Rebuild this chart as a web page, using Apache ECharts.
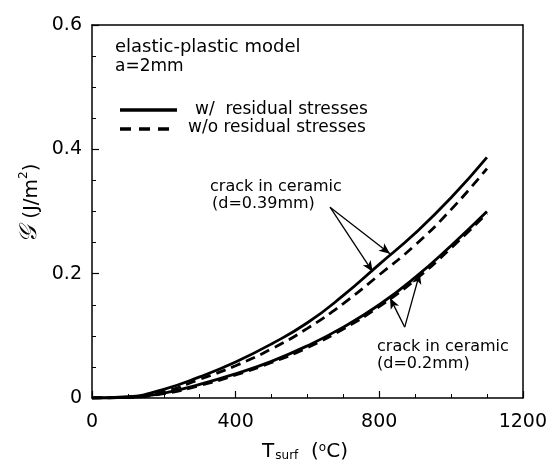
<!DOCTYPE html>
<html>
<head>
<meta charset="utf-8">
<script src="https://cdn.jsdelivr.net/npm/echarts@6/dist/echarts.min.js"></script>
<style>html,body{margin:0;padding:0;background:#fff}#c{width:550px;height:469px}</style>
</head>
<body>
<div id="c"></div>
<script>
// Surface temperature (deg C)
var tSurf = [0, 100, 200, 300, 400, 500, 600, 700, 800, 900, 1000, 1100];
// d = 0.39 mm, with residual stresses
var g039With = [0, 0.002, 0.014, 0.034, 0.058, 0.087, 0.121, 0.165, 0.215, 0.265, 0.322, 0.387];
// d = 0.39 mm, without residual stresses
var g039Without = [0, 0.001, 0.010, 0.030, 0.052, 0.079, 0.112, 0.152, 0.198, 0.246, 0.303, 0.369];
// d = 0.2 mm, with residual stresses
var g02With = [0, 0.001, 0.008, 0.022, 0.039, 0.059, 0.084, 0.114, 0.150, 0.194, 0.245, 0.300];
// d = 0.2 mm, without residual stresses
var g02Without = [0, 0.001, 0.007, 0.020, 0.037, 0.057, 0.081, 0.111, 0.147, 0.190, 0.241, 0.297];
// axis ticks
var xTicks = [0, 400, 800, 1200];
var xTickLabels = ['0', '400', '800', '1200'];
var yTicks = [0, 0.2, 0.4, 0.6];
var yTickLabels = ['0', '0.2', '0.4', '0.6'];
// annotation arrows: [from T, from G, to T, to G]
var arrows039 = [[663, 0.307, 830, 0.232], [663, 0.307, 782, 0.203]];
var arrows02 = [[871, 0.114, 830, 0.161], [871, 0.114, 913, 0.201]];

function pairs(xs, ys) { return xs.map(function (x, i) { return [x, ys[i]]; }); }
function arrowData(list) {
  return list.map(function (a) { return [{coord: [a[0], a[1]]}, {coord: [a[2], a[3]]}]; });
}
function lookup(ticks, labels) {
  return function (v) {
    for (var i = 0; i < ticks.length; i++) { if (Math.abs(v - ticks[i]) < 1e-9) return labels[i]; }
    return '';
  };
}

var FONT = 'DejaVu Sans';
var chart = echarts.init(document.getElementById('c'), null, {renderer: 'canvas'});

function frameLine() {
  return {show: true, onZero: false, lineStyle: {color: '#000', width: 1.5}};
}

var option = {
  animation: false,
  backgroundColor: '#fff',
  grid: {left: 92, right: 27, top: 25, bottom: 71, containLabel: false},
  xAxis: [
    {
      type: 'value', min: xTicks[0], max: xTicks[xTicks.length - 1], interval: xTicks[1] - xTicks[0],
      axisLine: frameLine(), splitLine: {show: false},
      axisTick: {show: true, inside: true, length: 7, lineStyle: {color: '#000', width: 1.2}},
      minorTick: {show: true, splitNumber: 4, length: 4, lineStyle: {color: '#000', width: 1}},
      axisLabel: {color: '#000', fontFamily: FONT, fontSize: 19, margin: 15, formatter: lookup(xTicks, xTickLabels)}
    },
    {
      type: 'value', position: 'top', min: xTicks[0], max: xTicks[xTicks.length - 1],
      axisLine: frameLine(), splitLine: {show: false},
      axisTick: {show: false}, axisLabel: {show: false}
    }
  ],
  yAxis: [
    {
      type: 'value', min: yTicks[0], max: yTicks[yTicks.length - 1], interval: yTicks[1] - yTicks[0],
      axisLine: frameLine(), splitLine: {show: false},
      axisTick: {show: true, inside: true, length: 7, lineStyle: {color: '#000', width: 1.2}},
      minorTick: {show: true, splitNumber: 4, length: 4, lineStyle: {color: '#000', width: 1}},
      axisLabel: {color: '#000', fontFamily: FONT, fontSize: 19, margin: 10, formatter: lookup(yTicks, yTickLabels)}
    },
    {
      type: 'value', position: 'right', min: yTicks[0], max: yTicks[yTicks.length - 1],
      axisLine: frameLine(), splitLine: {show: false},
      axisTick: {show: false}, axisLabel: {show: false}
    }
  ],
  series: [
    {
      type: 'line', name: 'w/ residual stresses (d=0.39mm)', data: pairs(tSurf, g039With),
      smooth: true, showSymbol: false, z: 5,
      lineStyle: {color: '#000', width: 2.8, type: 'solid'},
      markLine: {
        silent: true, symbol: ['none', 'arrow'], symbolSize: [7, 11],
        label: {show: false}, lineStyle: {color: '#000', width: 1.3, type: 'solid'},
        data: arrowData(arrows039)
      }
    },
    {
      type: 'line', name: 'w/o residual stresses (d=0.39mm)', data: pairs(tSurf, g039Without),
      smooth: true, showSymbol: false, z: 4,
      lineStyle: {color: '#000', width: 2.8, type: [10, 6]}
    },
    {
      type: 'line', name: 'w/ residual stresses (d=0.2mm)', data: pairs(tSurf, g02With),
      smooth: true, showSymbol: false, z: 5,
      lineStyle: {color: '#000', width: 2.8, type: 'solid'},
      markLine: {
        silent: true, symbol: ['none', 'arrow'], symbolSize: [7, 11],
        label: {show: false}, lineStyle: {color: '#000', width: 1.3, type: 'solid'},
        data: arrowData(arrows02)
      }
    },
    {
      type: 'line', name: 'w/o residual stresses (d=0.2mm)', data: pairs(tSurf, g02Without),
      smooth: true, showSymbol: false, z: 4,
      lineStyle: {color: '#000', width: 2.8, type: [10, 6]}
    }
  ],
  graphic: [
    {type: 'text', left: 115, top: 38, style: {text: 'elastic-plastic model', font: '18px "DejaVu Sans"', fill: '#000'}},
    {type: 'text', left: 115, top: 58, style: {text: 'a=2mm', font: '17px "DejaVu Sans"', fill: '#000'}},
    {type: 'line', shape: {x1: 120, y1: 110, x2: 177, y2: 110}, style: {stroke: '#000', lineWidth: 3.5}},
    {type: 'line', shape: {x1: 120, y1: 129, x2: 177, y2: 129}, style: {stroke: '#000', lineWidth: 3.5, lineDash: [11, 8]}},
    {type: 'text', x: 195, y: 110, style: {text: 'w/  residual stresses', font: '17px "DejaVu Sans"', fill: '#000', verticalAlign: 'middle'}},
    {type: 'text', x: 188, y: 128, style: {text: 'w/o residual stresses', font: '17px "DejaVu Sans"', fill: '#000', verticalAlign: 'middle'}},
    {type: 'text', x: 210, y: 187, style: {text: 'crack in ceramic', font: '16px "DejaVu Sans"', fill: '#000', verticalAlign: 'middle'}},
    {type: 'text', x: 212, y: 204, style: {text: '(d=0.39mm)', font: '16px "DejaVu Sans"', fill: '#000', verticalAlign: 'middle'}},
    {type: 'text', x: 377, y: 347, style: {text: 'crack in ceramic', font: '16px "DejaVu Sans"', fill: '#000', verticalAlign: 'middle'}},
    {type: 'text', x: 377, y: 364, style: {text: '(d=0.2mm)', font: '16px "DejaVu Sans"', fill: '#000', verticalAlign: 'middle'}},
    {
      type: 'text', x: 305, y: 452,
      style: {
        text: '{t|T}{s|surf}{t|  (}{o|o}{t|C)}',
        align: 'center', verticalAlign: 'middle', fill: '#000',
        rich: {
          t: {fontFamily: FONT, fontSize: 20, color: '#000', verticalAlign: 'bottom'},
          s: {fontFamily: FONT, fontSize: 12, color: '#000', verticalAlign: 'bottom', padding: [0, 0, 0, 1]},
          o: {fontFamily: FONT, fontSize: 12, color: '#000', verticalAlign: 'top'}
        }
      }
    },
    {
      type: 'text', x: 30, y: 203, rotation: Math.PI / 2,
      style: {
        text: '{g|𝒢}  {t|(J/m}{p|2}{t|)}',
        align: 'center', verticalAlign: 'middle', fill: '#000',
        rich: {
          g: {fontFamily: 'DejaVu Serif', fontStyle: 'italic', fontSize: 24, color: '#000', verticalAlign: 'bottom'},
          t: {fontFamily: FONT, fontSize: 20, color: '#000', verticalAlign: 'bottom'},
          p: {fontFamily: FONT, fontSize: 12, color: '#000', verticalAlign: 'top'}
        }
      }
    }
  ]
};
chart.setOption(option);
</script>
</body>
</html>
